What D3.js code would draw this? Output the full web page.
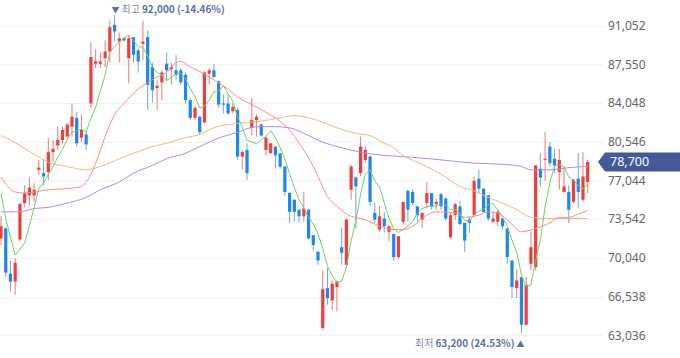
<!DOCTYPE html>
<html><head><meta charset="utf-8">
<script src="https://cdn.jsdelivr.net/npm/d3@7"></script>
<style>html,body{margin:0;padding:0;background:#fff;}svg{display:block;}</style>
</head><body>
<svg id="c" width="680" height="358"></svg>
<script>
// ---- data ----
const open  = [71800,72700,68600,67900,71700,75000,75700,75700,78000,77700,77800,79600,80200,80700,81000,81900,82700,80900,81200,84000,87600,87600,88100,88700,91100,89600,89900,88100,90000,88800,89400,90000,87300,85400,85900,87600,87100,87000,87000,86600,84300,82700,82800,82300,86700,87000,86000,84000,84000,83300,83400,79200,79800,81800,82500,82100,79800,79500,80100,79500,78300,75900,75300,74400,73800,74400,72100,70600,63700,67300,66200,67400,71000,69400,76200,77300,77700,78900,79200,74100,72600,73600,72400,72200,70100,73300,76100,76000,74700,73500,75000,75900,74900,75800,75400,71900,73900,74700,73200,73500,73900,77200,76300,75700,73300,73300,73600,72700,69800,67300,68300,64000,69500,69200,78100,78900,80100,79000,77800,76000,76000,75100,77200,75300,76900];
const high  = [73800,72800,69800,70000,75000,76600,77300,76800,78900,78900,80900,80700,81900,81900,82200,84000,83200,83000,81500,89500,88900,88600,89700,91500,92000,90400,90000,90200,90000,89000,91500,90600,87700,86100,87000,88600,87700,88400,87200,86800,84500,83800,82900,86900,87200,87600,86100,84800,84800,84000,83600,79800,80400,84500,83000,82200,81100,80400,80100,79500,78300,76000,75300,74400,76000,74400,72100,70600,68900,69100,68000,68000,72700,73600,78500,77400,81000,80100,79300,75000,74700,74200,73000,72200,72000,75100,76200,76200,74700,74200,76900,75900,75400,75900,75500,74100,75000,75200,73200,73800,77400,78000,76300,75700,74200,74400,73600,72700,69800,69000,68300,68300,72400,78400,79500,81400,80500,79900,79900,78200,76600,77200,79500,79600,78900];
const low   = [71200,68300,67000,66700,71500,74600,74800,75100,77500,76600,77100,78700,79800,80400,81000,81000,80100,80500,79800,83600,87200,87200,87300,87700,89600,87700,89600,85800,87700,86800,87900,83400,84100,83400,84300,86100,85700,86100,85700,84000,82500,82500,81200,82200,85700,86300,83600,83100,83000,83100,78900,78000,77100,81100,81000,81000,79300,79500,78100,78100,75600,73200,73300,73300,73300,71700,70700,69400,63500,65800,65300,65200,69400,69400,75300,72700,77400,78600,74700,73200,72400,72300,71500,69800,70000,73000,73300,74800,73300,72700,74500,74400,74400,74400,73400,71800,73500,73000,70600,72300,73800,75900,74100,73400,73200,72900,72700,69500,66400,66400,63200,63900,68900,68900,76500,77000,78300,77700,76200,75900,73200,75000,74500,75100,75900];
const close = [72900,68700,67900,69600,74900,75900,76400,76200,78200,77400,79600,79900,80700,81600,82100,82800,80400,81600,80300,88200,87800,87800,88700,90900,90500,89900,89700,89900,88400,87800,89600,85700,85200,85600,86800,87000,87300,86600,85900,84300,82700,83600,81400,86800,87000,86400,83900,83900,83100,83700,79200,79600,77700,82500,82800,81100,80900,80400,79300,78300,76000,74200,74200,73800,74500,71800,71200,69800,67200,66400,67700,67900,70500,73500,78300,76500,80100,79800,75100,73500,73800,72900,72900,70100,72000,75100,74400,75000,73900,74100,75900,74700,75100,74700,73600,73900,74900,73100,71600,73200,77000,76300,74200,73600,73600,74200,72900,70100,67400,68000,64000,67600,71000,78400,77300,79000,78600,78400,78900,76500,74400,77100,76000,77400,78700];

// moving averages: 5-day from closes; the first 4 points and the longer averages as [candle index, value]
const ma5Lead = [75900, 73600, 71900, 70300];
const ma20 = [[0,77350],[3,76000],[5,75900],[10,76200],[14,76300],[17,76500],[18,76900],[20,78600],[22,81000],[24,83000],[26,84000],[29,85300],[31,85900],[33,86400],[35,86800],[37,87700],[38,87800],[40,87300],[42,86900],[44,86400],[47,85600],[50,84600],[53,83900],[56,83200],[59,82400],[61,81600],[63,80400],[65,79100],[67,77400],[69,75600],[71,74700],[74,73800],[76,73600],[78,73300],[80,72900],[83,72600],[85,72600],[87,72900],[89,73600],[92,74200],[96,74100],[98,73700],[101,73900],[103,74200],[105,74100],[107,73500],[110,72400],[113,72700],[116,73200],[118,73700],[120,73700],[122,74000],[124,74300]];
const ma60 = [[0,81100],[2,80700],[4,80200],[7,79400],[10,78700],[14,78300],[18,78000],[21,78300],[25,79000],[28,79500],[32,80100],[35,80400],[39,80900],[42,81200],[45,81800],[50,82200],[55,82400],[59,82700],[62,82900],[64,82800],[68,82300],[71,81800],[75,81300],[78,81100],[81,80400],[83,80000],[85,79300],[89,78500],[93,77600],[97,76500],[100,76100],[103,75500],[106,75000],[109,74400],[112,73700],[115,73600],[119,73600],[124,73600]];
const ma120 = [[0,74200],[4,74200],[7,74500],[10,74600],[14,75000],[18,75500],[21,76200],[25,76900],[28,77700],[32,78400],[35,79000],[39,79500],[42,80100],[45,80700],[50,81400],[54,81900],[58,81900],[61,81800],[64,81300],[68,80500],[72,80000],[76,79600],[81,79300],[85,79200],[93,78900],[100,78600],[106,78500],[110,78300],[112,78000],[116,78000],[120,78200],[124,78300]];

const tickValues = [63036, 66538, 70040, 73542, 77044, 80546, 84048, 87550, 91052];
const lastPrice = 78700;
const maxLabel = {idx: 24, value: 92000, title: "최고", text: "92,000 (-14.46%)"};
const minLabel = {idx: 110, value: 63200, title: "최저", text: "63,200 (24.53%)"};

// ---- drawing ----
const svg = d3.select("#c");
const N = close.length;
const x = d3.scaleLinear().domain([0, N - 1]).range([1, 587.7]);
const y = d3.scaleLinear().domain([63036, 91052]).range([335.3, 25.5]);
const UP = "#f23d3d", DOWN = "#1f86ee";
const fmt = d3.format(",");

// grid
svg.append("g").selectAll("line").data(tickValues).join("line")
  .attr("x1", 0).attr("x2", 603)
  .attr("y1", d => Math.round(y(d)) + 0.5).attr("y2", d => Math.round(y(d)) + 0.5)
  .attr("stroke", "#eff1f7").attr("stroke-width", 1);

// y axis labels
const ax = svg.append("g").attr("transform", "translate(608,0)")
  .call(d3.axisRight(y).tickValues(tickValues).tickSize(0).tickPadding(0).tickFormat(fmt));
ax.select(".domain").remove();
ax.selectAll("text").attr("fill", "#666").style("font-family", "'Noto Sans', sans-serif").style("font-size", "12px");

const plot = svg.append("g");
const data = d3.range(N).map(i => ({i, o: open[i], h: high[i], l: low[i], c: close[i]}));

// wicks
plot.selectAll("line.w").data(data).join("line").attr("class", "w")
  .attr("x1", d => x(d.i)).attr("x2", d => x(d.i))
  .attr("y1", d => y(d.h)).attr("y2", d => y(d.l))
  .attr("stroke", d => d.c >= d.o ? UP : DOWN).attr("stroke-opacity", 0.7).attr("stroke-width", 1);
// bodies
const bw = 3.2;
plot.selectAll("rect.b").data(data).join("rect").attr("class", "b")
  .attr("x", d => x(d.i) - bw / 2).attr("width", bw)
  .attr("y", d => y(Math.max(d.o, d.c)))
  .attr("height", d => Math.max(1, Math.abs(y(d.o) - y(d.c))))
  .attr("fill", d => d.c >= d.o ? UP : DOWN);

// moving averages
const ma5 = d3.range(N).map(i => i < 4 ? [i, ma5Lead[i]] : [i, d3.mean(close.slice(i - 4, i + 1))]);
const lineLin = d3.line().x(d => x(d[0])).y(d => y(d[1]));
const lineSmooth = d3.line().x(d => x(d[0])).y(d => y(d[1])).curve(d3.curveMonotoneX);
[[ma120, "#b487f5", lineSmooth], [ma60, "#ffb179", lineSmooth], [ma20, "#ff8a8a", lineSmooth], [ma5, "#6fd06a", lineLin]]
  .forEach(([pts, col, gen]) => {
    svg.append("path").attr("d", gen(pts)).attr("fill", "none").attr("stroke", col).attr("stroke-width", 1);
  });

// max / min labels
const font = "'Noto Sans CJK KR', 'Noto Sans', sans-serif";
const tMax = svg.append("text").attr("x", x(maxLabel.idx) - 3).attr("y", 12.5)
  .style("font-family", font).style("font-size", "10px");
tMax.append("tspan").attr("fill", "#5d6fa6").style("font-size", "8px").text("▼");
tMax.append("tspan").attr("fill", "#8189a8").attr("dx", 2).text(maxLabel.title);
tMax.append("tspan").attr("fill", "#5d6fa6").attr("font-weight", 600).attr("dx", 2).text(maxLabel.text);

const tMin = svg.append("text").attr("x", x(minLabel.idx) + 3).attr("y", 346.5).attr("text-anchor", "end")
  .style("font-family", font).style("font-size", "10px");
tMin.append("tspan").attr("fill", "#8189a8").text(minLabel.title);
tMin.append("tspan").attr("fill", "#5d6fa6").attr("font-weight", 600).attr("dx", 2).text(minLabel.text);
tMin.append("tspan").attr("fill", "#5d6fa6").attr("dx", 2).style("font-size", "8px").text("▲");

// current price tag
const py = y(lastPrice);
svg.append("path")
  .attr("d", `M598,${py} L605,${py - 9.5} L680,${py - 9.5} L680,${py + 9.5} L605,${py + 9.5} Z`)
  .attr("fill", "#44599a");
svg.append("text").attr("x", 610).attr("y", py).attr("dy", "0.35em").attr("fill", "#fff")
  .style("font-family", "'Noto Sans', sans-serif").style("font-size", "12.5px").text(fmt(lastPrice));
</script>
</body></html>
